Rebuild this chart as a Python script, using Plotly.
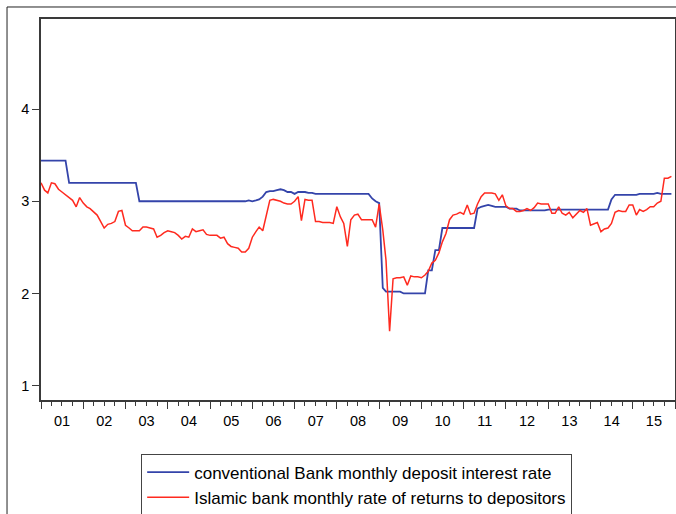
import pandas as pd
import plotly.graph_objects as go

# monthly dates Jan 2001 .. Dec 2015
dates = pd.date_range("2001-01-01", periods=180, freq="MS")

conventional = [
    3.44, 3.44, 3.44, 3.44, 3.44, 3.44, 3.44, 3.44, 3.20, 3.20, 3.20, 3.20,  # 2001
    3.20, 3.20, 3.20, 3.20, 3.20, 3.20, 3.20, 3.20, 3.20, 3.20, 3.20, 3.20,  # 2002
    3.20, 3.20, 3.20, 3.20, 3.00, 3.00, 3.00, 3.00, 3.00, 3.00, 3.00, 3.00,  # 2003
    3.00, 3.00, 3.00, 3.00, 3.00, 3.00, 3.00, 3.00, 3.00, 3.00, 3.00, 3.00,  # 2004
    3.00, 3.00, 3.00, 3.00, 3.00, 3.00, 3.00, 3.00, 3.00, 3.00, 3.00, 3.01,  # 2005
    3.00, 3.01, 3.02, 3.05, 3.10, 3.11, 3.11, 3.12, 3.13, 3.12, 3.10, 3.10,  # 2006
    3.08, 3.10, 3.10, 3.10, 3.09, 3.09, 3.08, 3.08, 3.08, 3.08, 3.08, 3.08,  # 2007
    3.08, 3.08, 3.08, 3.08, 3.08, 3.08, 3.08, 3.08, 3.08, 3.08, 3.03, 3.00,  # 2008
    2.98, 2.06, 2.02, 2.02, 2.02, 2.02, 2.02, 2.00, 2.00, 2.00, 2.00, 2.00,  # 2009
    2.00, 2.00, 2.25, 2.25, 2.47, 2.47, 2.71, 2.71, 2.71, 2.71, 2.71, 2.71,  # 2010
    2.71, 2.71, 2.71, 2.71, 2.92, 2.94, 2.95, 2.96, 2.95, 2.94, 2.94, 2.94,  # 2011
    2.94, 2.92, 2.92, 2.92, 2.90, 2.90, 2.90, 2.90, 2.90, 2.90, 2.90, 2.90,  # 2012
    2.91, 2.91, 2.91, 2.91, 2.91, 2.91, 2.91, 2.91, 2.91, 2.91, 2.91, 2.91,  # 2013
    2.91, 2.91, 2.91, 2.91, 2.91, 2.91, 3.02, 3.07, 3.07, 3.07, 3.07, 3.07,  # 2014
    3.07, 3.07, 3.08, 3.08, 3.08, 3.08, 3.08, 3.09, 3.08, 3.08, 3.08, 3.08,  # 2015
]

islamic = [
    3.20, 3.12, 3.09, 3.20, 3.19, 3.13, 3.10, 3.07, 3.03, 3.01, 2.94, 3.04,  # 2001
    2.98, 2.94, 2.92, 2.88, 2.85, 2.78, 2.71, 2.75, 2.76, 2.78, 2.89, 2.90,  # 2002
    2.74, 2.71, 2.68, 2.68, 2.68, 2.72, 2.72, 2.71, 2.70, 2.61, 2.63, 2.66,  # 2003
    2.68, 2.67, 2.66, 2.63, 2.59, 2.62, 2.61, 2.70, 2.67, 2.68, 2.69, 2.64,  # 2004
    2.63, 2.63, 2.63, 2.60, 2.61, 2.54, 2.51, 2.50, 2.49, 2.45, 2.45, 2.49,  # 2005
    2.61, 2.67, 2.72, 2.68, 2.85, 3.01, 3.02, 3.01, 3.00, 2.98, 2.97, 2.97,  # 2006
    3.00, 3.05, 2.79, 3.02, 3.01, 3.01, 2.78, 2.78, 2.77, 2.77, 2.77, 2.76,  # 2007
    2.94, 2.83, 2.76, 2.51, 2.80, 2.85, 2.86, 2.80, 2.80, 2.80, 2.80, 2.72,  # 2008
    2.97, 2.69, 2.36, 1.59, 2.16, 2.17, 2.17, 2.18, 2.09, 2.19, 2.18, 2.18,  # 2009
    2.17, 2.20, 2.24, 2.33, 2.36, 2.44, 2.56, 2.65, 2.80, 2.85, 2.86, 2.88,  # 2010
    2.86, 2.96, 2.86, 2.87, 2.97, 3.05, 3.09, 3.09, 3.09, 3.08, 3.01, 3.07,  # 2011
    2.95, 2.92, 2.92, 2.89, 2.89, 2.90, 2.92, 2.90, 2.93, 2.98, 2.97, 2.97,  # 2012
    2.97, 2.87, 2.87, 2.94, 2.87, 2.85, 2.88, 2.82, 2.86, 2.90, 2.88, 2.92,  # 2013
    2.74, 2.76, 2.77, 2.67, 2.70, 2.71, 2.76, 2.88, 2.90, 2.89, 2.89, 2.96,  # 2014
    2.96, 2.85, 2.91, 2.89, 2.91, 2.94, 2.94, 2.98, 3.00, 3.25, 3.25, 3.27,  # 2015
]

y_ticks = [1, 2, 3, 4]
series_names = [
    "conventional Bank monthly deposit interest rate",
    "Islamic bank monthly rate of returns to depositors",
]

FONT = "Liberation Sans, Arial, sans-serif"
AXIS = "#3a3a3a"

fig = go.Figure()
fig.add_trace(go.Scatter(x=dates, y=conventional, mode="lines",
                         name=series_names[0],
                         line=dict(color="#3444aa", width=1.8)))
fig.add_trace(go.Scatter(x=dates, y=islamic, mode="lines",
                         name=series_names[1],
                         line=dict(color="#ff2a1f", width=1.5)))

fig.update_layout(
    width=676, height=514,
    margin=dict(l=41, r=1, t=19, b=114, autoexpand=False),
    paper_bgcolor="white", plot_bgcolor="white",
    font=dict(family=FONT, size=14, color="black"),
    showlegend=True,
    legend=dict(
        x=0.158, y=-0.1405, xanchor="left", yanchor="top",
        bgcolor="white", bordercolor="#444", borderwidth=1,
        font=dict(family=FONT, size=17, color="black"),
        itemwidth=42,
        tracegroupgap=0,
    ),
    xaxis=dict(
        type="date", automargin=False,
        range=["2001-01-01", "2016-01-01"],
        tick0="2001-01-01", dtick="M12", tickformat="%y",
        ticklabelmode="period",
        ticks="outside", ticklen=7, tickwidth=1, tickcolor=AXIS,
        minor=dict(dtick="M3", ticks="outside", ticklen=4, tickwidth=1,
                   tickcolor=AXIS, showgrid=False),
        showgrid=False, zeroline=False,
        showline=True, linecolor=AXIS, linewidth=1.5, mirror=True,
        tickfont=dict(family=FONT, size=14.5, color="black"),
    ),
    yaxis=dict(
        automargin=False,
        range=[0.845, 4.976],
        tickvals=y_ticks,
        ticks="outside", ticklen=7, tickwidth=1, tickcolor=AXIS,
        showgrid=False, zeroline=False,
        showline=True, linecolor=AXIS, linewidth=1.5, mirror=True,
        tickfont=dict(family=FONT, size=14.5, color="black"),
    ),
    shapes=[dict(type="rect", xref="paper", yref="paper",
                 x0=-0.0536, y0=-0.6, x1=1.2, y1=1.0315,
                 line=dict(color="#222", width=1), layer="below")],
)

fig.write_html(
    "out.html",
    config={"displayModeBar": False},
    post_script="document.body.style.margin='0px';document.body.style.overflow='hidden';",
)
